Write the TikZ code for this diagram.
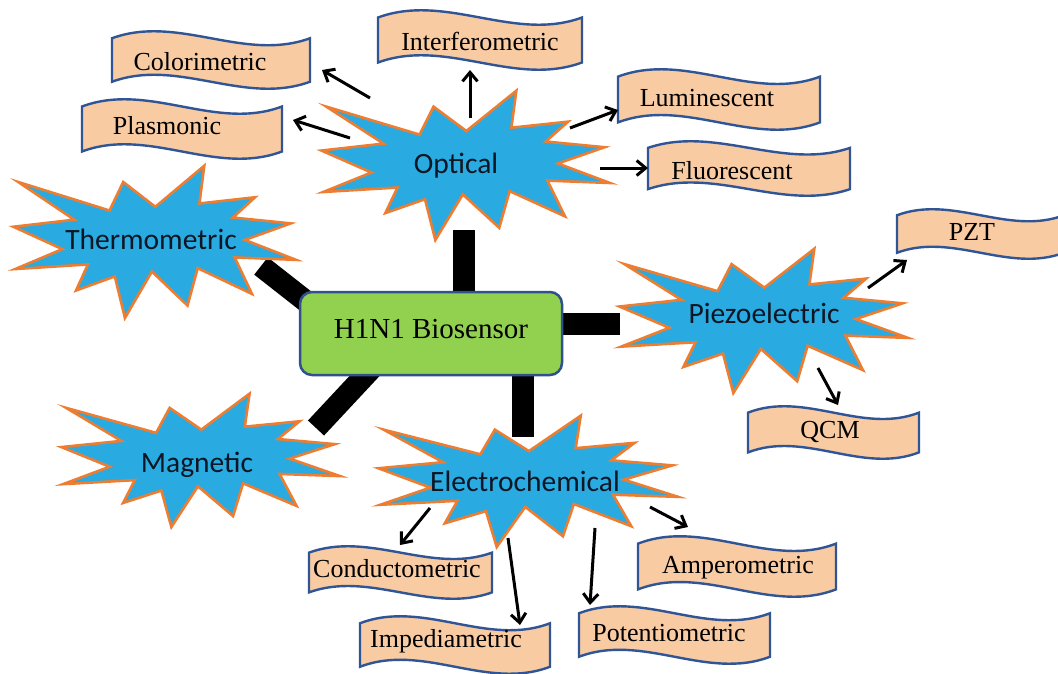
\documentclass[tikz,border=0pt]{standalone}
\usepackage{fontspec}
\setmainfont{Liberation Serif}
\newfontfamily\starfont{Carlito}
\usetikzlibrary{arrows.meta,backgrounds}
\definecolor{burstfill}{RGB}{41,171,226}
\definecolor{burstline}{RGB}{237,125,49}
\definecolor{wavefill}{RGB}{248,203,163}
\definecolor{waveline}{RGB}{47,85,151}
\definecolor{boxfill}{RGB}{146,208,80}
\definecolor{boxline}{RGB}{47,82,143}
\definecolor{startext}{RGB}{12,22,36}
\tikzset{
 burst/.style={fill=burstfill, draw=burstline, line width=2.6pt, line join=miter},
 banner/.style={fill=wavefill, draw=waveline, line width=2.4pt},
 burstlabel/.style={font=\starfont\fontsize{29.5}{34}\selectfont, text=startext, inner sep=0pt, anchor=base},
 wavelabel/.style={font=\fontsize{26}{30}\selectfont, inner sep=0pt, anchor=base},
 bar/.style={line width=22pt, black},
 arr/.style={line width=3pt, black, -{Straight Barb[length=9pt,width=15pt]}},
}
% explosion shape: x0 y0 width height
\newcommand\burstshape[4]{%
  \begin{scope}[shift={(#1,#2)}, xscale=#3/100, yscale=#4/100]
    \draw[burst] (50.47,27.34) -- (39.16,11.11) -- (34.34,29.75) -- (2.20,11.11)
      -- (21.91,35.75) -- (0.49,40.36) -- (17.72,55.00) -- (1.13,68.00)
      -- (26.72,65.00) -- (22.54,82.03) -- (36.20,72.82) -- (39.77,100)
      -- (49.25,69.62) -- (61.80,91.85) -- (65.39,67.41) -- (84.48,84.24)
      -- (78.42,60.39) -- (100,62.00) -- (81.99,48.98) -- (98.14,38.16)
      -- (77.81,34.34) -- (85.56,21.11) -- (66.00,25.13) -- (67.70,0.49) -- cycle;
  \end{scope}}
% wave banner: x0 y0 x1 y1
\newcommand\waveshape[4]{%
  \begin{scope}[shift={(#1,#2)}, xscale={(#3-#1)/100}, yscale={(#4-#2)/100}]
    \draw[banner] (0,12.5) .. controls (33.33,-29.17) and (66.67,54.17) .. (100,12.5)
      -- (100,87.5) .. controls (66.67,129.17) and (33.33,45.83) .. (0,87.5) -- cycle;
  \end{scope}}
\begin{document}
\begin{tikzpicture}[x=1pt,y=-1pt]
\useasboundingbox (0,0) rectangle (1058,673);
\clip (0,0) rectangle (1058,673);

% central box
\node[draw=boxline, fill=boxfill, line width=2.5pt, rounded corners=12pt,
      minimum width=262pt, minimum height=83pt, text height=20pt, text depth=10.5pt,
      font=\fontsize{29}{34}\selectfont, inner sep=0pt] (bio) at (431,333.5) {H1N1 Biosensor};

% bars
\coordinate (bt) at (464,230);
\coordinate (br) at (620,323.5);
\coordinate (bb) at (522.5,437);
\coordinate (bul) at (261,266);
\coordinate (bulin) at (312,306);
\coordinate (bll) at (316,428);
\coordinate (bllin) at (372,368);
\begin{pgfonlayer}{background}
\fill[white] (0,0) rectangle (1058,673);
\draw[bar] (bt) -- (bt |- bio.north);
\draw[bar] (br) -- (br -| bio.east);
\draw[bar] (bb) -- (bb |- bio.south);
\draw[bar] (bul) -- (bulin);
\draw[bar] (bll) -- (bllin);
\end{pgfonlayer}

% bursts
\burstshape{320}{90}{290}{150}
\node[burstlabel] (opt) at (456,173) {Optical};
\burstshape{12}{165}{284}{153}
\node[burstlabel] (therm) at (151,249) {Thermometric};
\burstshape{618}{248}{290}{145}
\node[burstlabel] (piezo) at (764,323) {Piezoelectric};
\burstshape{60}{393}{280}{134}
\node[burstlabel] (mag) at (197,472) {Magnetic};
\burstshape{377}{415}{301}{132}
\node[burstlabel] (elec) at (525,491) {Electrochemical};

% banners
\waveshape{112}{31}{310}{89}
\node[wavelabel] (colo) at (200,70) {Colorimetric};
\waveshape{82}{99}{282}{159}
\node[wavelabel] (plas) at (167,134) {Plasmonic};
\waveshape{378}{10}{582}{70}
\node[wavelabel] (inter) at (480,50) {Interferometric};
\waveshape{618}{69}{820}{130}
\node[wavelabel] (lumi) at (707,106) {Luminescent};
\waveshape{648}{141}{850}{196}
\node[wavelabel] (fluo) at (732,179) {Fluorescent};
\waveshape{897}{209}{1064}{259}
\node[wavelabel] (pzt) at (972,240) {PZT};
\waveshape{748}{406}{919}{459}
\node[wavelabel] (qcm) at (830,438) {QCM};
\waveshape{309}{546}{492}{599}
\node[wavelabel] (cond) at (397,577) {Conductometric};
\waveshape{360}{616}{550}{674}
\node[wavelabel] (imped) at (446,647) {Impediametric};
\waveshape{579}{606}{770}{664}
\node[wavelabel] (pot) at (669,641) {Potentiometric};
\waveshape{638}{536}{836}{597}
\node[wavelabel] (amp) at (738,573) {Amperometric};

% arrows
\coordinate (a1s) at (370,98);  \coordinate (a1e) at (322,70);
\coordinate (a2s) at (350,138); \coordinate (a2e) at (293,120);
\coordinate (a3s) at (470,118); \coordinate (a3e) at (470,70);
\coordinate (a4s) at (570,128); \coordinate (a4e) at (618,110);
\coordinate (a5s) at (600,168); \coordinate (a5e) at (648,168);
\coordinate (a6s) at (868,288); \coordinate (a6e) at (907,260);
\coordinate (a7s) at (818,368); \coordinate (a7e) at (838,405);
\coordinate (a8s) at (430,508); \coordinate (a8e) at (400,545);
\coordinate (a9s) at (508,538); \coordinate (a9e) at (520,625);
\coordinate (a10s) at (595,528); \coordinate (a10e) at (590,605);
\coordinate (a11s) at (650,507); \coordinate (a11e) at (688,527);
\draw[arr] (a1s) -- (a1e);
\draw[arr] (a2s) -- (a2e);
\draw[arr] (a3s) -- (a3e);
\draw[arr] (a4s) -- (a4e);
\draw[arr] (a5s) -- (a5e);
\draw[arr] (a6s) -- (a6e);
\draw[arr] (a7s) -- (a7e);
\draw[arr] (a8s) -- (a8e);
\draw[arr] (a9s) -- (a9e);
\draw[arr] (a10s) -- (a10e);
\draw[arr] (a11s) -- (a11e);
\end{tikzpicture}
\end{document}
